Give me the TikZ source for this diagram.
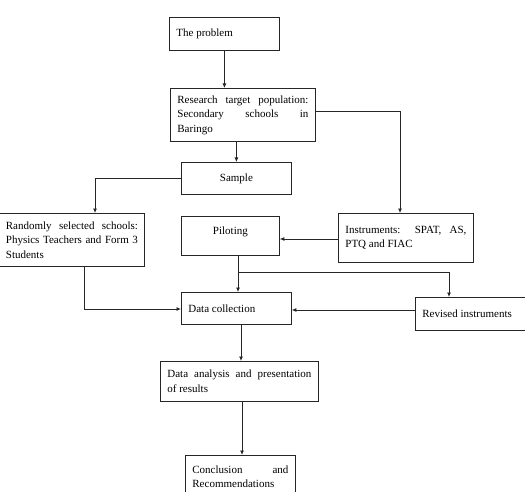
\documentclass[tikz,border=0pt]{standalone}
\usepackage{fontspec}
\setmainfont{Liberation Serif}
\usetikzlibrary{arrows.meta}

\begin{document}
\begin{tikzpicture}[x=1pt, y=-1pt,
  box/.style={draw=black!85, line width=0.8pt, anchor=north west, inner xsep=7pt,
    font=\fontsize{11}{14.5}\selectfont, align=justify},
  flow/.style={draw=black!85, line width=0.8pt, -{Latex[length=4.5pt,width=4pt]}}]
\useasboundingbox (0,0) rectangle (525,492);
\clip (0,0) rectangle (525,492);
% boxes
\node[box, minimum width=110pt, minimum height=33pt, text width=96pt] (problem) at (169,17) {The problem};
\node[box, minimum width=145pt, minimum height=53pt, text width=131pt] (target) at (170,88) {Research target population:\linebreak Secondary schools in\linebreak Baringo};
\node[box, minimum width=110pt, minimum height=32pt, text width=96pt, align=center] (sample) at (181,162) {Sample};
\node[box, minimum width=145pt, minimum height=53pt, text width=132pt, inner xsep=6pt] (random) at (-1,213) {Randomly selected schools:\linebreak Physics Teachers and Form 3\linebreak Students};
\node[box, minimum width=98pt, minimum height=39pt, text width=84pt, align=center] (piloting) at (181,216) {Piloting\\[-4pt]\mbox{}};
\node[box, minimum width=135pt, minimum height=49pt, text width=121pt] (instr) at (338,213) {Instruments: SPAT, AS,\linebreak PTQ and FIAC};
\node[box, minimum width=110pt, minimum height=32pt, text width=96pt] (datacol) at (181,292) {Data collection};
\node[box, minimum width=150pt, minimum height=33pt, text width=136pt] (revised) at (415,297) {Revised instruments};
\node[box, minimum width=158pt, minimum height=40pt, text width=144pt] (analysis) at (160,361) {Data analysis and presentation\linebreak of results};
\node[box, minimum width=110pt, minimum height=43pt, text width=96pt] (concl) at (185,455) {Conclusion and\linebreak Recommendations};
% branch points
\coordinate (split) at (238,272);
\coordinate (rdown) at (84,309);
% connectors
\draw[flow] (problem.south) -- (problem.south |- target.north);
\draw[flow] (target.east |- 0,111) -| (instr.north -| 400,0);
\draw[flow] (sample.north |- target.south) -- (sample.north);
\draw[flow] (sample.west) -| (random.north -| 95,0);
\draw[flow] (instr.west |- 0,239) -- (piloting.east |- 0,239);
\draw[flow] (piloting.south -| split) -- (datacol.north -| split);
\draw[flow] (split) -| (revised.north -| 449,0);
\draw[flow] (random.south -| rdown) |- (datacol.west |- rdown);
\draw[flow] (revised.west |- 0,310) -- (datacol.east |- 0,310);
\draw[flow] (datacol.south -| 241,0) -- (analysis.north -| 241,0);
\draw[flow] (analysis.south -| 242,0) -- (concl.north -| 242,0);
\end{tikzpicture}
\end{document}
